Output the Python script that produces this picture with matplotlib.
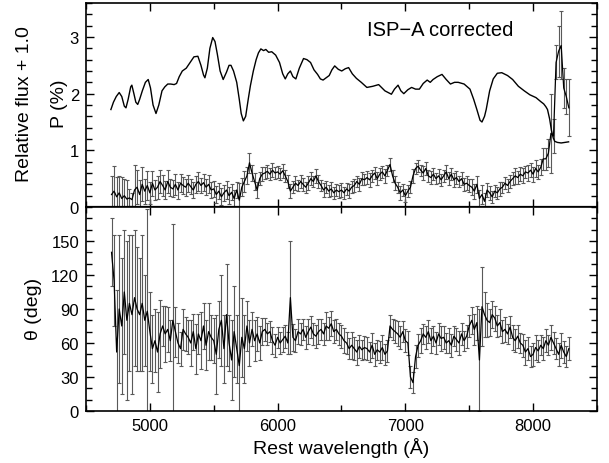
import numpy as np
import matplotlib
matplotlib.use("Agg")
import matplotlib.pyplot as plt
from matplotlib.ticker import MultipleLocator

plt.rcParams['font.family'] = ['Liberation Sans', 'DejaVu Sans']
plt.rcParams['font.size'] = 12

# binned spectropolarimetry, 20 A bins from 4700 to 8280
wave = np.arange(4700, 8300, 20)

pol = [
    0.22, 0.28, 0.18, 0.25, 0.15, 0.20, 0.14, 0.16, 0.13, 0.30,
    0.35, 0.22, 0.40, 0.28, 0.38, 0.25, 0.42, 0.30, 0.35, 0.45,
    0.38, 0.30, 0.45, 0.35, 0.32, 0.40, 0.30, 0.42, 0.38, 0.35,
    0.42, 0.36, 0.30, 0.40, 0.45, 0.38, 0.43, 0.35, 0.40, 0.30,
    0.32, 0.22, 0.28, 0.18, 0.25, 0.30, 0.20, 0.26, 0.15, 0.30,
    0.12, 0.35, 0.45, 0.55, 0.78, 0.60, 0.45, 0.30, 0.50, 0.58,
    0.60, 0.63, 0.58, 0.65, 0.60, 0.62, 0.58, 0.64, 0.55, 0.45,
    0.28, 0.35, 0.42, 0.38, 0.45, 0.40, 0.35, 0.42, 0.50, 0.45,
    0.55, 0.45, 0.38, 0.30, 0.35, 0.28, 0.32, 0.25, 0.30, 0.27,
    0.30, 0.25, 0.32, 0.28, 0.35, 0.38, 0.45, 0.40, 0.50, 0.48,
    0.52, 0.48, 0.55, 0.60, 0.50, 0.58, 0.62, 0.55, 0.65, 0.75,
    0.55, 0.42, 0.35, 0.25, 0.30, 0.20, 0.28, 0.35, 0.55, 0.68,
    0.72, 0.65, 0.60, 0.68, 0.55, 0.52, 0.58, 0.50, 0.55, 0.48,
    0.55, 0.62, 0.50, 0.58, 0.48, 0.52, 0.45, 0.50, 0.40, 0.42,
    0.38, 0.35, 0.28, 0.40, 0.15, 0.22, 0.10, 0.30, 0.25, 0.18,
    0.28, 0.25, 0.32, 0.35, 0.42, 0.38, 0.45, 0.50, 0.55, 0.52,
    0.58, 0.55, 0.62, 0.60, 0.65, 0.58, 0.68, 0.62, 0.70, 0.85,
    0.85, 0.95, 1.30, 1.25, 2.55, 2.75, 2.85, 2.10, 1.95, 1.75,
]
pol_err = [
    0.32, 0.45, 0.35, 0.30, 0.38, 0.30, 0.33, 0.15, 0.12, 0.45,
    0.30, 0.25, 0.30, 0.22, 0.25, 0.20, 0.22, 0.18, 0.20, 0.20,
    0.18, 0.16, 0.20, 0.15, 0.15, 0.18, 0.15, 0.16, 0.15, 0.15,
    0.15, 0.13, 0.14, 0.15, 0.16, 0.14, 0.15, 0.14, 0.16, 0.14,
    0.14, 0.15, 0.14, 0.15, 0.14, 0.16, 0.15, 0.14, 0.15, 0.14,
    0.30, 0.16, 0.18, 0.15, 0.18, 0.14, 0.15, 0.14, 0.12, 0.12,
    0.10, 0.11, 0.10, 0.12, 0.10, 0.11, 0.10, 0.12, 0.11, 0.12,
    0.12, 0.11, 0.12, 0.10, 0.12, 0.11, 0.10, 0.12, 0.11, 0.10,
    0.12, 0.11, 0.10, 0.12, 0.11, 0.10, 0.12, 0.11, 0.10, 0.11,
    0.12, 0.11, 0.10, 0.12, 0.11, 0.12, 0.10, 0.11, 0.12, 0.10,
    0.11, 0.12, 0.10, 0.11, 0.12, 0.10, 0.11, 0.12, 0.10, 0.12,
    0.11, 0.12, 0.10, 0.12, 0.11, 0.12, 0.10, 0.11, 0.12, 0.10,
    0.11, 0.10, 0.12, 0.11, 0.10, 0.12, 0.11, 0.10, 0.12, 0.11,
    0.10, 0.12, 0.11, 0.10, 0.12, 0.11, 0.10, 0.12, 0.11, 0.12,
    0.12, 0.14, 0.13, 0.15, 0.15, 0.16, 0.14, 0.13, 0.12, 0.11,
    0.10, 0.11, 0.12, 0.10, 0.11, 0.12, 0.11, 0.12, 0.14, 0.12,
    0.12, 0.13, 0.11, 0.14, 0.12, 0.13, 0.15, 0.12, 0.14, 0.20,
    0.20, 0.25, 0.70, 0.30, 0.30, 0.45, 0.60, 0.35, 0.30, 0.50,
]

theta = [
    140, 115, 52, 90, 75, 105, 80, 95, 85, 100,
    90, 85, 95, 80, 88, 70, 55, 62, 52, 68,
    75, 68, 72, 62, 80, 70, 60, 55, 72, 68,
    65, 60, 70, 55, 68, 62, 75, 58, 70, 65,
    62, 50, 72, 80, 55, 85, 60, 45, 70, 55,
    40, 65, 55, 75, 60, 72, 62, 68, 60, 70,
    72, 68, 70, 62, 58, 65, 60, 63, 66, 60,
    100, 65, 62, 70, 68, 72, 65, 70, 74, 68,
    66, 70, 72, 68, 75, 73, 77, 70, 72, 68,
    66, 62, 60, 55, 58, 55, 52, 57, 54, 56,
    55, 52, 58, 50, 54, 52, 56, 50, 53, 75,
    72, 70, 68, 65, 70, 62, 60, 30, 25, 48,
    58, 62, 68, 65, 70, 62, 66, 60, 68, 64,
    65, 60, 62, 58, 66, 63, 60, 68, 62, 66,
    75, 80, 72, 78, 45, 92, 85, 80, 78, 85,
    82, 75, 78, 70, 72, 68, 74, 65, 62, 66,
    60, 58, 52, 55, 48, 50, 56, 53, 58, 55,
    62, 58, 65, 60, 55, 50, 58, 52, 48, 55,
]
theta_err = [
    30, 40, 55, 65, 60, 55, 70, 60, 70, 60,
    55, 50, 60, 40, 90, 35, 30, 28, 35, 30,
    18, 25, 20, 18, 85, 22, 18, 15, 18, 15,
    15, 20, 16, 22, 18, 25, 20, 22, 25, 20,
    20, 35, 25, 40, 30, 45, 25, 35, 40, 30,
    180, 35, 30, 22, 20, 15, 18, 15, 15, 12,
    10, 10, 9, 12, 10, 9, 10, 11, 10, 10,
    50, 12, 10, 11, 10, 9, 10, 11, 10, 10,
    10, 11, 9, 10, 12, 10, 11, 10, 9, 10,
    10, 11, 10, 9, 12, 10, 11, 10, 9, 10,
    10, 9, 11, 10, 9, 10, 11, 9, 10, 10,
    9, 10, 11, 10, 9, 10, 11, 10, 9, 10,
    10, 11, 9, 10, 10, 11, 9, 10, 10, 11,
    10, 9, 11, 10, 9, 10, 11, 10, 9, 10,
    10, 12, 14, 15, 45, 35, 20, 15, 12, 12,
    11, 10, 12, 10, 11, 9, 10, 11, 10, 10,
    9, 10, 11, 10, 9, 10, 11, 10, 9, 10,
    10, 9, 11, 10, 9, 10, 11, 10, 9, 10,
]

# total flux spectrum (offset by +1)
flux_wave = [
    4695, 4715, 4737, 4760, 4780, 4800, 4813, 4830, 4850, 4859,
    4875, 4890, 4905, 4920, 4941, 4965, 4987, 5005, 5025, 5048,
    5070, 5095, 5117, 5140, 5163, 5190, 5209, 5230, 5254, 5285,
    5315, 5345, 5376, 5400, 5420, 5431, 5450, 5470, 5492, 5510,
    5528, 5550, 5574, 5600, 5620, 5635, 5655, 5680, 5700, 5715,
    5732, 5750, 5770, 5787, 5810, 5832, 5850, 5869, 5890, 5908,
    5930, 5954, 5985, 6015, 6040, 6060, 6080, 6100, 6120, 6143,
    6170, 6203, 6230, 6258, 6285, 6313, 6335, 6356, 6380, 6404,
    6425, 6447, 6475, 6502, 6530, 6556, 6585, 6617, 6655, 6699,
    6745, 6791, 6840, 6891, 6915, 6943, 6965, 6988, 7020, 7049,
    7080, 7110, 7140, 7171, 7195, 7217, 7250, 7287, 7320, 7353,
    7385, 7414, 7460, 7506, 7535, 7560, 7585, 7600, 7620, 7633,
    7660, 7688, 7720, 7755, 7800, 7840, 7885, 7931, 7975, 8023,
    8060, 8083, 8100, 8113, 8130, 8144, 8158, 8169, 8190, 8220,
    8250, 8278,
]
flux = [
    1.72, 1.85, 1.95, 2.02, 1.95, 1.78, 1.75, 1.90, 2.12, 2.15,
    2.00, 1.85, 1.81, 1.90, 2.05, 2.20, 2.25, 2.10, 1.80, 1.65,
    1.80, 2.05, 2.12, 2.17, 2.17, 2.16, 2.18, 2.30, 2.40, 2.45,
    2.55, 2.65, 2.66, 2.50, 2.33, 2.28, 2.45, 2.80, 2.99, 2.92,
    2.70, 2.40, 2.25, 2.38, 2.50, 2.50, 2.40, 2.20, 1.90, 1.65,
    1.52, 1.60, 1.90, 2.14, 2.40, 2.60, 2.72, 2.79, 2.76, 2.78,
    2.73, 2.74, 2.68, 2.55, 2.35, 2.26, 2.35, 2.40, 2.30, 2.26,
    2.45, 2.62, 2.60, 2.55, 2.42, 2.34, 2.26, 2.24, 2.28, 2.32,
    2.42, 2.49, 2.43, 2.40, 2.44, 2.46, 2.35, 2.27, 2.20, 2.11,
    2.13, 2.16, 2.05, 1.99, 2.08, 2.15, 2.05, 2.00, 2.07, 2.11,
    2.08, 2.08, 2.18, 2.24, 2.20, 2.25, 2.30, 2.34, 2.25, 2.17,
    2.20, 2.20, 2.17, 2.08, 1.90, 1.72, 1.53, 1.50, 1.60, 1.72,
    2.05, 2.26, 2.36, 2.37, 2.32, 2.25, 2.13, 2.05, 1.98, 1.93,
    1.86, 1.82, 1.77, 1.72, 1.55, 1.35, 1.22, 1.16, 1.14, 1.13,
    1.14, 1.15,
]

fig = plt.figure(figsize=(6.09, 4.64), dpi=100)
ax1 = fig.add_axes([0.1412, 0.5517, 0.839, 0.4397])
ax2 = fig.add_axes([0.1412, 0.1121, 0.839, 0.4397], sharex=ax1)

eb = dict(fmt='-', color='black', lw=0.9, ecolor='0.35', elinewidth=0.8,
          capsize=1.3, capthick=0.8)

ax1.errorbar(wave, pol, yerr=pol_err, **eb)
ax1.plot(flux_wave, flux, color='black', lw=1.0)
ax1.axhline(0, color='black', lw=1.6)
ax1.set_ylim(0, 3.6)
ax1.yaxis.set_major_locator(MultipleLocator(1))
ax1.yaxis.set_minor_locator(MultipleLocator(0.2))
ax1.text(367 / 609, 1 - 30 / 464, 'ISP\u2212A corrected', transform=fig.transFigure,
         fontsize=14.5, va='center', ha='left')
plt.setp(ax1.get_xticklabels(), visible=False)

ax2.errorbar(wave, theta, yerr=theta_err, **eb)
ax2.set_ylim(0, 180)
ax2.yaxis.set_minor_locator(MultipleLocator(10))
ax2.set_yticks([0, 30, 60, 90, 120, 150])
ax2.set_xlim(4500, 8500)
ax2.xaxis.set_major_locator(MultipleLocator(1000))
ax2.xaxis.set_minor_locator(MultipleLocator(500))
ax2.set_xlabel('Rest wavelength (\u00c5)', fontsize=14, labelpad=3)

for ax in (ax1, ax2):
    ax.tick_params(which='both', direction='in', top=True, right=True, width=1.0)
    ax.tick_params(which='major', length=6, pad=5)
    ax.tick_params(which='minor', length=4)
    for s in ax.spines.values():
        s.set_linewidth(1.2)

fig.text(25 / 609, 1 - 104 / 464, 'Relative flux + 1.0', rotation=90,
         ha='center', va='center', fontsize=14)
fig.text(59 / 609, 1 - 104 / 464, 'P (%)', rotation=90, ha='center', va='center', fontsize=14)
fig.text(33 / 609, 1 - 309 / 464, '\u03b8 (deg)', rotation=90, ha='center', va='center', fontsize=14)

fig.savefig('out.png', dpi=100)
